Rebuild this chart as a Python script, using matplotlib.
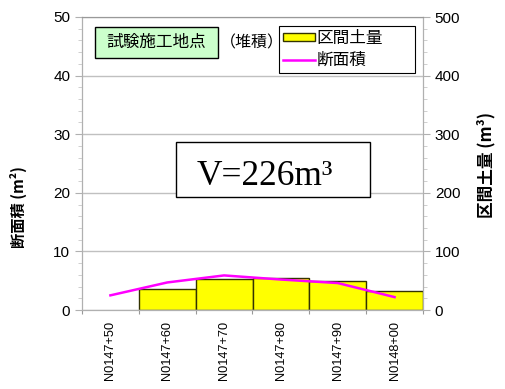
import matplotlib.pyplot as plt
import numpy as np
from matplotlib.patches import Rectangle

plt.rcParams['font.family'] = ['Liberation Sans', 'Noto Sans CJK JP']

# 測点と断面積・区間土量
stations = ['N0147+50', 'N0147+60', 'N0147+70', 'N0147+80', 'N0147+90', 'N0148+00']
area = [2.5, 4.7, 5.9, 5.2, 4.6, 2.2]          # 断面積 (m2)
volume = [36, 53, 55, 49, 33]                   # 区間土量 (m3), 各区間の終点側に表示
total_text = 'V=226m³'

fig = plt.figure(figsize=(5.06, 3.89), dpi=100)
ax = fig.add_axes([82 / 506, 1 - 310 / 389, 341 / 506, 293 / 389])
ax2 = ax.twinx()

x = np.arange(len(stations))

# 区間土量（右軸）
bars = ax2.bar(x[1:], volume, width=1.0, color='#FFFF00', edgecolor='#333300',
               linewidth=1.0, label='区間土量', zorder=2)
ax2.set_ylim(0, 500)
ax2.set_yticks(np.arange(0, 501, 100))
ax2.set_yticks(np.arange(0, 501, 20), minor=True)

# 断面積（左軸）を棒より前に出す
ax.set_zorder(ax2.get_zorder() + 1)
ax.patch.set_visible(False)
line, = ax.plot(x, area, color='#FF00FF', linewidth=1.8, label='断面積', zorder=3)
ax.set_ylim(0, 50)
ax.set_yticks(np.arange(0, 51, 10))
ax.set_yticks(np.arange(0, 51, 2), minor=True)
ax.set_xlim(-0.5, len(stations) - 0.5)
ax.yaxis.grid(True, color='#C0C0C0', linewidth=1.0)

# 目盛：区切り線は区間境界、ラベルは測点中央
ax.set_xticks(np.arange(-0.5, len(stations), 1.0))
ax.set_xticklabels([])
ax.set_xticks(x, minor=True)
ax.set_xticklabels(stations, minor=True, rotation=90, fontsize=9.2)
ax.tick_params(axis='x', which='major', length=3, color='#999999')
ax.tick_params(axis='x', which='minor', length=0, pad=8)

for a in (ax, ax2):
    for s in a.spines.values():
        s.set_color('#B0B0B0')
    a.tick_params(axis='y', which='major', length=5, color='#B0B0B0', labelsize=11)
    a.tick_params(axis='y', which='minor', length=3, color='#C8C8C8')
ax.spines['top'].set_color('#999999')

ax.set_ylabel('断面積 (m²)', fontsize=11, fontweight='bold',
              family=['Noto Sans CJK JP', 'DejaVu Sans'])
ax.yaxis.set_label_coords(-0.16, 0.352)
ax2.set_ylabel('区間土量 (m³)', fontsize=12, fontweight='bold',
               family=['Noto Sans CJK JP', 'DejaVu Sans'])
ax2.yaxis.set_label_coords(1.157, 0.495)

# タイトル枠
ax.add_patch(Rectangle((0.038, 0.860), 0.361, 0.106, transform=ax.transAxes,
                       facecolor='#CCFFCC', edgecolor='black', linewidth=1.0, zorder=5))
ax.text(0.218, 0.912, '試験施工地点', transform=ax.transAxes, ha='center', va='center',
        fontsize=12, family=['Noto Sans CJK JP'], zorder=6)
ax.text(0.497, 0.912, '（堆積）', transform=ax.transAxes, ha='center', va='center',
        fontsize=11.5, family=['Noto Sans CJK JP'], zorder=6)

# 合計土量
ax.add_patch(Rectangle((0.276, 0.386), 0.569, 0.187, transform=ax.transAxes,
                       facecolor='white', edgecolor='black', linewidth=1.0, zorder=5))
ax.text(0.535, 0.428, total_text, transform=ax.transAxes, ha='center', va='baseline',
        fontsize=25.5, family=['Liberation Serif', 'DejaVu Serif'], zorder=6)

leg = ax.legend([bars, line], ['区間土量', '断面積'], loc='upper left',
                bbox_to_anchor=(0.578, 0.816, 0.399, 0.153), mode='expand',
                borderaxespad=0, frameon=True,
                fancybox=False, edgecolor='black', framealpha=1,
                prop={'family': ['Noto Sans CJK JP'], 'size': 12},
                handlelength=1.9, handleheight=0.35, handletextpad=0.1,
                labelspacing=0.3, borderpad=0.25)
leg.get_frame().set_linewidth(0.8)

fig.savefig('out.png', dpi=100)
